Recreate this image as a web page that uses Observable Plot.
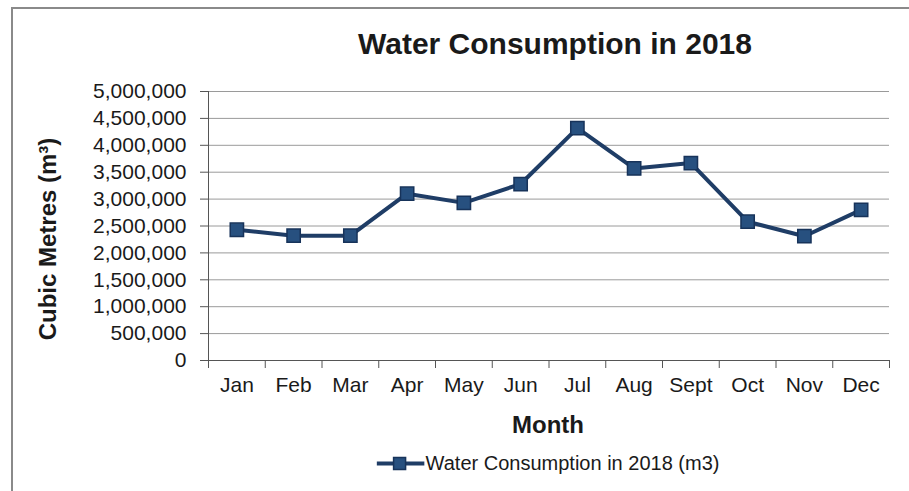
<!DOCTYPE html>
<html>
<head>
<meta charset="utf-8">
<script src="https://cdn.jsdelivr.net/npm/d3@7"></script>
<script src="https://cdn.jsdelivr.net/npm/@observablehq/plot@0.6"></script>
<style>
  html, body { margin: 0; padding: 0; background: #fff; }
  #wrap { position: relative; width: 909px; height: 491px; overflow: hidden; font-family: "Liberation Sans", Arial, sans-serif; color: #1a1a1a; }
  #frameTop { position: absolute; left: 11px; top: 7px; width: 898px; height: 0; border-top: 2px solid #8a8a8a; }
  #frameLeft { position: absolute; left: 11px; top: 7px; width: 0; height: 484px; border-left: 2px solid #8a8a8a; }
  .abs { position: absolute; transform: translate(-50%, -50%); white-space: nowrap; }
  #title { left: 555px; top: 44px; font-size: 30px; font-weight: bold; }
  #xtitle { left: 548px; top: 425px; font-size: 24px; font-weight: bold; }
  #ytitle { left: 48px; top: 239px; font-size: 24px; font-weight: bold; transform: translate(-50%, -50%) rotate(-90deg); }
  #legend { left: 548px; top: 463px; font-size: 20px; display: flex; align-items: center; }
  #chart { position: absolute; left: 0; top: 0; }
</style>
</head>
<body>
<div id="wrap">
  <div id="chart"></div>
  <div id="frameTop"></div>
  <div id="frameLeft"></div>
  <div id="title" class="abs"></div>
  <div id="ytitle" class="abs"></div>
  <div id="xtitle" class="abs"></div>
  <div id="legend" class="abs"></div>
</div>
<script>
const titleText = "Water Consumption in 2018";
const yTitle = "Cubic Metres (m³)";
const xTitle = "Month";
const seriesName = "Water Consumption in 2018 (m3)";
const months = ["Jan", "Feb", "Mar", "Apr", "May", "Jun", "Jul", "Aug", "Sept", "Oct", "Nov", "Dec"];
const consumption = [2430000, 2320000, 2320000, 3100000, 2930000, 3280000, 4320000, 3570000, 3670000, 2580000, 2310000, 2800000];
const yTicks = [0, 500000, 1000000, 1500000, 2000000, 2500000, 3000000, 3500000, 4000000, 4500000, 5000000];

const lineColor = "#1f3d66";
const markerFill = "#27507f";
const markerStroke = "#17335a";

const data = months.map((m, i) => ({month: m, pos: i + 0.5, value: consumption[i]}));
const boundaries = d3.range(months.length + 1);
const centers = months.map((m, i) => i + 0.5);

const chart = Plot.plot({
  width: 909,
  height: 491,
  marginLeft: 208,
  marginRight: 20,
  marginTop: 91,
  marginBottom: 131,
  style: {fontFamily: "'Liberation Sans', Arial, sans-serif", fontSize: "21px", color: "#1a1a1a", background: "transparent"},
  x: {type: "linear", domain: [0, months.length]},
  y: {domain: [0, 5000000]},
  marks: [
    Plot.gridY(yTicks, {stroke: "#9a9a9a", strokeOpacity: 1, strokeWidth: 1}),
    Plot.axisY(yTicks, {tickFormat: d3.format(","), tickSize: 8, tickPadding: 14, label: null, fontSize: 21, stroke: "#555"}),
    Plot.ruleX([0], {stroke: "#555"}),
    Plot.ruleY([0], {stroke: "#555"}),
    Plot.axisX(boundaries, {tickFormat: () => "", tickSize: 8, label: null, stroke: "#555"}),
    Plot.axisX(centers, {tickFormat: v => months[Math.floor(v)], tickSize: 0, tickPadding: 17, label: null, fontSize: 21}),
    Plot.line(data, {x: "pos", y: "value", stroke: lineColor, strokeWidth: 4, strokeLinejoin: "round"}),
    Plot.dot(data, {x: "pos", y: "value", symbol: "square", r: 7.5, fill: markerFill, stroke: markerStroke, strokeWidth: 1.5})
  ]
});
document.getElementById("chart").appendChild(chart);

document.getElementById("title").textContent = titleText;
document.getElementById("ytitle").textContent = yTitle;
document.getElementById("xtitle").textContent = xTitle;

const legend = document.getElementById("legend");
const ns = "http://www.w3.org/2000/svg";
const sw = document.createElementNS(ns, "svg");
sw.setAttribute("width", 48);
sw.setAttribute("height", 16);
sw.style.marginRight = "1px";
const ln = document.createElementNS(ns, "line");
ln.setAttribute("x1", 0); ln.setAttribute("x2", 48);
ln.setAttribute("y1", 8); ln.setAttribute("y2", 8);
ln.setAttribute("stroke", lineColor); ln.setAttribute("stroke-width", 4);
const rc = document.createElementNS(ns, "rect");
rc.setAttribute("x", 17); rc.setAttribute("y", 2);
rc.setAttribute("width", 12); rc.setAttribute("height", 12);
rc.setAttribute("fill", markerFill); rc.setAttribute("stroke", markerStroke); rc.setAttribute("stroke-width", 1.5);
sw.appendChild(ln); sw.appendChild(rc);
legend.appendChild(sw);
const lt = document.createElement("span");
lt.textContent = seriesName;
legend.appendChild(lt);
</script>
</body>
</html>
